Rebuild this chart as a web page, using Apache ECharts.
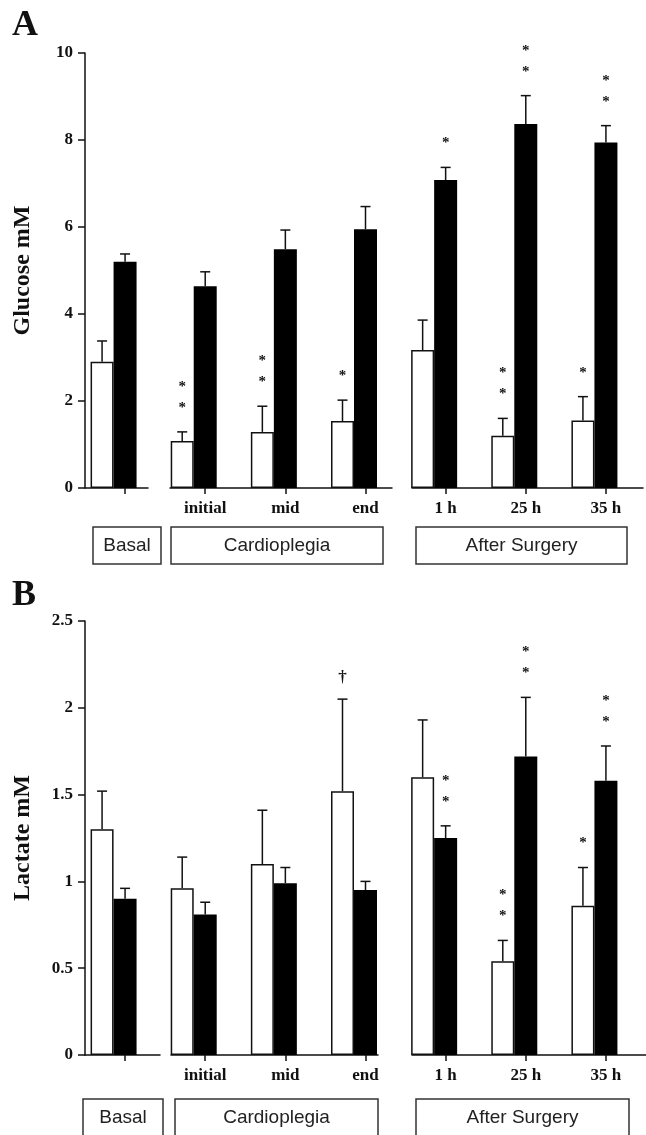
<!DOCTYPE html>
<html>
<head>
<meta charset="utf-8">
<script src="https://cdn.jsdelivr.net/npm/echarts@6/dist/echarts.min.js"></script>
<style>
  html, body { margin: 0; padding: 0; background: #fff; }
  #chart { width: 646px; height: 1135px; }
</style>
</head>
<body>
<div id="chart"></div>
<script>
// time points (first one is the basal sample, unlabelled on the axis)
const categories = ['', 'initial', 'mid', 'end', '1 h', '25 h', '35 h'];
const groupLabels = ['Basal', 'Cardioplegia', 'After Surgery'];

// panel A - glucose (mM), open and filled bars with SEM
const glucoseOpen = [2.9, 1.08, 1.29, 1.54, 3.17, 1.2, 1.55];
const glucoseOpenErr = [0.48, 0.21, 0.59, 0.48, 0.69, 0.4, 0.55];
const glucoseOpenMarks = ['', '**', '**', '*', '', '**', '*'];
const glucoseFilled = [5.2, 4.64, 5.49, 5.95, 7.08, 8.37, 7.94];
const glucoseFilledErr = [0.18, 0.33, 0.44, 0.52, 0.29, 0.65, 0.39];
const glucoseFilledMarks = ['', '', '', '', '*', '**', '**'];

// panel B - lactate (mM)
const lactateOpen = [1.3, 0.96, 1.1, 1.52, 1.6, 0.54, 0.86];
const lactateOpenErr = [0.22, 0.18, 0.31, 0.53, 0.33, 0.12, 0.22];
const lactateOpenMarks = ['', '', '', '\u2020', '', '**', '*'];
const lactateFilled = [0.9, 0.81, 0.99, 0.95, 1.25, 1.72, 1.58];
const lactateFilledErr = [0.06, 0.07, 0.09, 0.05, 0.07, 0.34, 0.2];
const lactateFilledMarks = ['', '', '', '', '**', '**', '**'];

const SERIF = '"Liberation Serif", "DejaVu Serif", serif';
const SANS = '"Liberation Sans", Arial, sans-serif';
const INK = '#111';
const BAR_W = 23;

const panels = [
  {
    letter: 'A', letterY: 26, name: 'Glucose mM', top: 53, height: 435, max: 10, interval: 2,
    open: glucoseOpen, openErr: glucoseOpenErr, openMarks: glucoseOpenMarks,
    filled: glucoseFilled, filledErr: glucoseFilledErr, filledMarks: glucoseFilledMarks,
    segments: [[85, 148], [170, 392], [412, 643]],
    boxes: [[93, 161], [171, 383], [416, 627]], boxTop: 527,
  },
  {
    letter: 'B', letterY: 596, name: 'Lactate mM', top: 621, height: 434, max: 2.5, interval: 0.5,
    open: lactateOpen, openErr: lactateOpenErr, openMarks: lactateOpenMarks,
    filled: lactateFilled, filledErr: lactateFilledErr, filledMarks: lactateFilledMarks,
    segments: [[85, 160], [171, 378], [412, 646]],
    boxes: [[83, 163], [175, 378], [416, 629]], boxTop: 1099,
  },
];

function errorBars(shift, marks) {
  return function (params, api) {
    const i = api.value(0);
    const base = api.coord([i, api.value(1)]);
    const top = api.coord([i, api.value(1) + api.value(2)]);
    const x = base[0] + shift;
    const children = [
      { type: 'line', shape: { x1: x, y1: base[1], x2: x, y2: top[1] }, style: { stroke: INK, lineWidth: 1.5 } },
      { type: 'line', shape: { x1: x - 5, y1: top[1], x2: x + 5, y2: top[1] }, style: { stroke: INK, lineWidth: 1.5 } },
    ];
    const mark = marks[params.dataIndex] || '';
    for (let k = 0; k < mark.length; k++) {
      const dagger = mark[k] !== '*';
      children.push({
        type: 'text',
        x: x,
        y: top[1] - (dagger ? 22 : 24) - k * 21,
        style: {
          text: mark[k],
          fill: INK,
          font: (dagger ? 'bold 17px ' : 'bold 15px ') + SERIF,
          align: 'center',
          verticalAlign: 'middle',
        },
      });
    }
    return { type: 'group', children: children };
  };
}

const grid = [];
const xAxis = [];
const yAxis = [];
const series = [];
const graphic = [];

panels.forEach((p) => {
  const main = grid.length;
  grid.push({ left: 85, top: p.top, width: 563, height: p.height, containLabel: false });
  xAxis.push({
    gridIndex: main,
    type: 'category',
    data: categories,
    axisLine: { show: false },
    axisTick: { show: true, alignWithLabel: true, length: 6, lineStyle: { color: INK, width: 1.5 } },
    axisLabel: { color: INK, fontFamily: SERIF, fontWeight: 'bold', fontSize: 17, margin: 12 },
  });
  yAxis.push({
    gridIndex: main,
    type: 'value',
    min: 0,
    max: p.max,
    interval: p.interval,
    splitLine: { show: false },
    axisLine: { show: true, lineStyle: { color: INK, width: 1.5 } },
    axisTick: { show: true, length: 7, lineStyle: { color: INK, width: 1.5 } },
    axisLabel: { color: INK, fontFamily: SERIF, fontWeight: 'bold', fontSize: 17, margin: 12 },
    name: p.name,
    nameLocation: 'middle',
    nameGap: 50,
    nameTextStyle: { color: INK, fontFamily: SERIF, fontWeight: 'bold', fontSize: 24 },
  });

  // broken baseline: one short axis per group of time points
  p.segments.forEach((s) => {
    const g = grid.length;
    grid.push({ left: s[0], top: p.top, width: s[1] - s[0], height: p.height, containLabel: false });
    xAxis.push({
      gridIndex: g, type: 'value', min: 0, max: 1,
      axisLine: { show: true, onZero: false, lineStyle: { color: INK, width: 1.5 } },
      axisTick: { show: false }, axisLabel: { show: false }, splitLine: { show: false },
    });
    yAxis.push({ gridIndex: g, type: 'value', show: false });
  });

  series.push(
    {
      type: 'bar', xAxisIndex: main, yAxisIndex: main, data: p.open,
      barWidth: BAR_W, barGap: '0%',
      itemStyle: { color: '#fff', borderColor: INK, borderWidth: 1.5 },
      silent: true,
    },
    {
      type: 'bar', xAxisIndex: main, yAxisIndex: main, data: p.filled,
      barWidth: BAR_W, barGap: '0%',
      itemStyle: { color: '#000' },
      silent: true,
    },
    {
      // empty slot so the filled bar sits on the tick
      type: 'bar', xAxisIndex: main, yAxisIndex: main, data: categories.map(() => 0),
      barWidth: BAR_W, barGap: '0%',
      itemStyle: { color: 'rgba(0,0,0,0)' },
      silent: true,
    },
    {
      type: 'custom', xAxisIndex: main, yAxisIndex: main, z: 5,
      data: p.open.map((v, i) => [i, v, p.openErr[i]]),
      renderItem: errorBars(-BAR_W, p.openMarks),
      silent: true,
    },
    {
      type: 'custom', xAxisIndex: main, yAxisIndex: main, z: 5,
      data: p.filled.map((v, i) => [i, v, p.filledErr[i]]),
      renderItem: errorBars(0, p.filledMarks),
      silent: true,
    }
  );

  graphic.push({
    type: 'text', x: 12, y: p.letterY,
    style: { text: p.letter, fill: INK, font: 'bold 36px ' + SERIF, align: 'left', verticalAlign: 'middle' },
  });
  p.boxes.forEach((b, j) => {
    graphic.push({
      type: 'rect',
      shape: { x: b[0], y: p.boxTop, width: b[1] - b[0], height: 37 },
      style: { fill: '#fff', stroke: '#333', lineWidth: 1.5 },
    });
    graphic.push({
      type: 'text', x: (b[0] + b[1]) / 2, y: p.boxTop + 19,
      style: { text: groupLabels[j], fill: '#222', font: '19px ' + SANS, align: 'center', verticalAlign: 'middle' },
    });
  });
});

const chart = echarts.init(document.getElementById('chart'), null, { renderer: 'canvas' });
chart.setOption({
  animation: false,
  backgroundColor: '#fff',
  grid: grid,
  xAxis: xAxis,
  yAxis: yAxis,
  series: series,
  graphic: graphic,
});
</script>
</body>
</html>
